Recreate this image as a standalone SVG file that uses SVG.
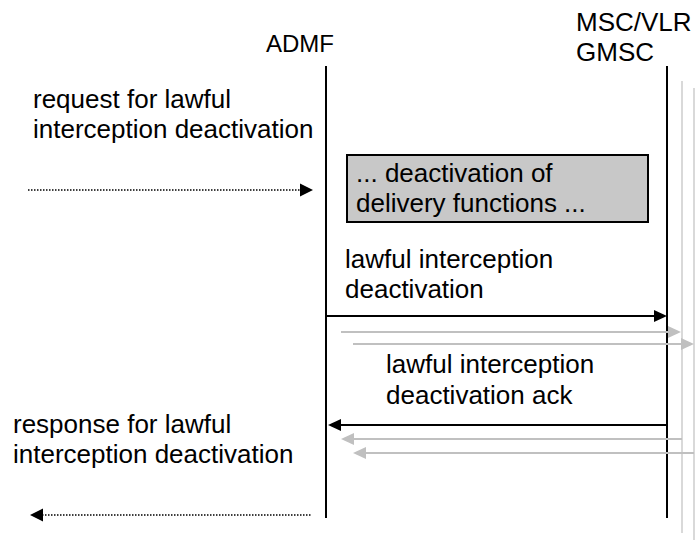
<svg xmlns="http://www.w3.org/2000/svg" width="695" height="540" viewBox="0 0 695 540">
<style>
  text { font-family: "Liberation Sans", Arial, sans-serif; font-size: 26px; fill: #000; }
  .life { stroke: #000; stroke-width: 2; fill: none; }
  .glife { stroke: #d9d9d9; stroke-width: 2; fill: none; }
  .msg { stroke: #000; stroke-width: 2; fill: none; }
  .gmsg { stroke: #c0c0c0; stroke-width: 2; fill: none; }
  .dot { stroke: #000; stroke-width: 1.5; stroke-dasharray: 1.5 1.5; fill: none; }
  .ah { fill: #000; }
  .gah { fill: #c0c0c0; }
</style>
<rect width="695" height="540" fill="#fff"/>
<g id="admf">
  <text x="266" y="52" style="font-size:24px">ADMF</text>
  <line class="life" x1="326" y1="66" x2="326" y2="518"/>
</g>
<g id="msc">
  <text x="576" y="31">MSC/VLR</text>
  <text x="576" y="61">GMSC</text>
  <line class="life" x1="667" y1="66" x2="667" y2="518"/>
  <line class="glife" x1="682" y1="81" x2="682" y2="533"/>
  <line class="glife" x1="694" y1="88" x2="694" y2="540"/>
</g>
<g id="box">
  <rect x="347" y="155" width="301" height="67" fill="#c8c8c8" stroke="#000" stroke-width="2"/>
  <text x="356" y="182">... deactivation of</text>
  <text x="356" y="212">delivery functions ...</text>
</g>
<g id="labels">
  <text x="33" y="108">request for lawful</text>
  <text x="33" y="138">interception deactivation</text>
  <text x="345" y="268">lawful interception</text>
  <text x="345" y="298">deactivation</text>
  <text x="386" y="373">lawful interception</text>
  <text x="386" y="404">deactivation ack</text>
  <text x="13" y="433">response for lawful</text>
  <text x="13" y="463">interception deactivation</text>
</g>
<g id="connectors">
  <line class="dot" x1="28" y1="190" x2="301" y2="190"/>
  <polygon class="ah" points="300,183.5 313,190 300,196.5"/>
  <line class="msg" x1="326" y1="316" x2="655" y2="316"/>
  <polygon class="ah" points="654,310 667,316 654,322"/>
  <line class="gmsg" x1="341" y1="332" x2="669" y2="332"/>
  <polygon class="gah" points="668,326 681,332 668,338"/>
  <line class="gmsg" x1="353" y1="344" x2="682" y2="344"/>
  <polygon class="gah" points="681,338 694,344 681,350"/>
  <line class="msg" x1="667" y1="425" x2="340" y2="425"/>
  <polygon class="ah" points="341,419 328,425 341,431"/>
  <line class="gmsg" x1="682" y1="439" x2="353" y2="439"/>
  <polygon class="gah" points="354,433 341,439 354,445"/>
  <line class="gmsg" x1="694" y1="453" x2="365" y2="453"/>
  <polygon class="gah" points="366,447 353,453 366,459"/>
  <line class="dot" x1="42" y1="515" x2="312" y2="515"/>
  <polygon class="ah" points="43,508.5 30,515 43,521.5"/>
</g>
</svg>
